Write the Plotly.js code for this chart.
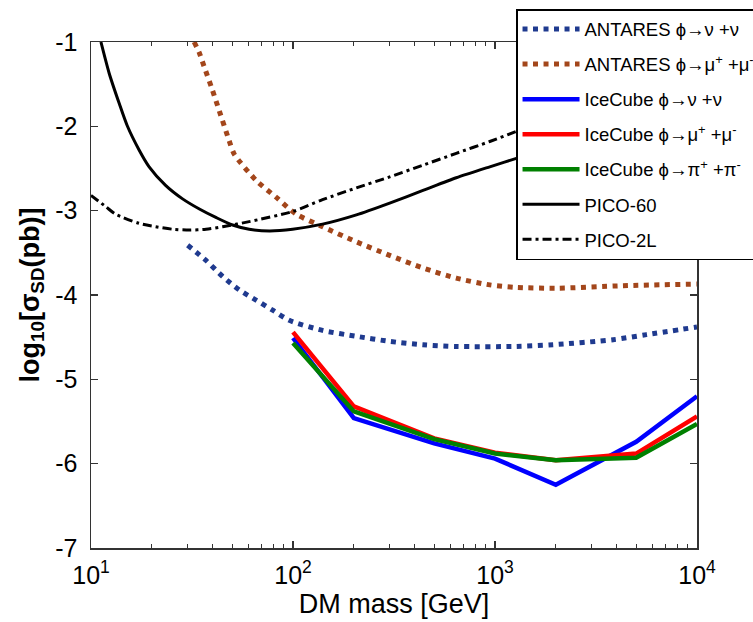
<!DOCTYPE html>
<html>
<head>
<meta charset="utf-8">
<script src="https://cdn.plot.ly/plotly-3.0.1.min.js"></script>
<style>html,body{margin:0;padding:0;background:#fff;}#chart{width:753px;height:622px;}</style>
</head>
<body>
<div id="chart"></div>
<script>
// ---- data (DM mass in GeV, log10 sigma_SD in pb) ----
const antaresNuMass = [30.1, 37.1, 44.8, 54.2, 65.6, 79.3, 95.9, 140, 206, 301, 440, 643, 1276, 1936, 3846, 5623, 10000];
const antaresNuVal  = [-3.41, -3.59, -3.78, -3.94, -4.06, -4.18, -4.30, -4.42, -4.49, -4.55, -4.59, -4.61, -4.61, -4.59, -4.53, -4.47, -4.38];

const antaresMuMass = [32.4, 34.4, 36.3, 39.9, 43.2, 48.3, 51.2, 65.6, 82.4, 103.5, 140, 206, 301, 440, 643, 942, 1276, 2014, 4305, 10000];
const antaresMuVal  = [-1.00, -1.13, -1.29, -1.57, -1.82, -2.17, -2.33, -2.64, -2.84, -3.04, -3.19, -3.37, -3.53, -3.68, -3.80, -3.88, -3.91, -3.92, -3.89, -3.87];

const icecubeMass  = [100, 200, 500, 1000, 2000, 5000, 10000];
const icecubeNu    = [-4.51, -5.46, -5.76, -5.94, -6.25, -5.74, -5.20];
const icecubeMu    = [-4.44, -5.32, -5.70, -5.87, -5.96, -5.88, -5.44];
const icecubePi    = [-4.57, -5.38, -5.71, -5.88, -5.96, -5.93, -5.53];

const pico60Mass = [11.2, 12.3, 13.8, 15.1, 17.3, 19.4, 23.4, 28.4, 34.4, 41.5, 50.2, 60.7, 76.4, 99.5, 140, 206, 301, 440, 643, 942, 1276, 3162, 10000];
const pico60Val  = [-1.00, -1.37, -1.73, -1.99, -2.28, -2.48, -2.70, -2.86, -2.98, -3.08, -3.17, -3.22, -3.24, -3.22, -3.16, -3.05, -2.91, -2.76, -2.61, -2.48, -2.38, -2.10, -1.75];

const pico2LMass = [10, 11.8, 13.2, 17.3, 20.9, 25.3, 30.6, 37.1, 44.8, 60.7, 99.5, 140, 206, 301, 440, 643, 942, 1276, 3162, 10000];
const pico2LVal  = [-2.82, -2.95, -3.04, -3.15, -3.19, -3.22, -3.23, -3.22, -3.19, -3.13, -3.01, -2.87, -2.73, -2.60, -2.46, -2.32, -2.18, -2.06, -1.70, -1.25];

const seriesNames = [
  'ANTARES ϕ→ν +ν',
  'ANTARES ϕ→μ<sup>+</sup> +μ<sup>-</sup>',
  'IceCube ϕ→ν +ν',
  'IceCube ϕ→μ<sup>+</sup> +μ<sup>-</sup>',
  'IceCube ϕ→π<sup>+</sup> +π<sup>-</sup>',
  'PICO-60',
  'PICO-2L'
];

const xTickVals = [10, 100, 1000, 10000];
const xTickText = ['10<sup>1</sup>', '10<sup>2</sup>', '10<sup>3</sup>', '10<sup>4</sup>'];
const xMinorVals = [20,30,40,50,60,70,80,90,200,300,400,500,600,700,800,900,2000,3000,4000,5000,6000,7000,8000,9000];
const yTickVals = [-7, -6, -5, -4, -3, -2, -1];
const yTickText = ['-7', '-6', '-5', '-4', '-3', '-2', '-1'];

// ---- traces ----
const mk = (x, y, name, color, width, dash, order, shape) => ({
  x: x, y: y, name: name, type: 'scatter', mode: 'lines',
  line: {color: color, width: width, dash: dash, shape: shape || 'linear', smoothing: 0.7},
  legendgroup: 'g' + order, legendrank: order
});

const traces = [
  mk(antaresNuMass, antaresNuVal, seriesNames[0], '#1f3a8f', 5, '5px,5.5px', 1, 'spline'),
  mk(antaresMuMass, antaresMuVal, seriesNames[1], '#a3461b', 5, '5px,5.5px', 2, 'spline'),
  mk(icecubeMass, icecubeNu, seriesNames[2], '#0000ff', 4.5, 'solid', 3),
  mk(icecubeMass, icecubeMu, seriesNames[3], '#ff0000', 4.5, 'solid', 4),
  mk(icecubeMass, icecubePi, seriesNames[4], '#008000', 4.5, 'solid', 5),
  mk(pico60Mass, pico60Val, seriesNames[5], '#000000', 3, 'solid', 6, 'spline'),
  mk(pico2LMass, pico2LVal, seriesNames[6], '#000000', 3, '9px,4px,3px,4px', 7, 'spline')
];

const font = 'Liberation Sans, Arial, Helvetica, sans-serif';

const layout = {
  width: 753, height: 622,
  margin: {l: 91, r: 56, t: 42, b: 74, autoexpand: false},
  paper_bgcolor: '#ffffff', plot_bgcolor: '#ffffff',
  font: {family: font, color: '#000000', size: 22},
  showlegend: true,
  legend: {
    xref: 'container', yref: 'container',
    x: 0.6853, y: 0.9855, xanchor: 'left', yanchor: 'top',
    bgcolor: '#ffffff', bordercolor: '#000000', borderwidth: 1.5,
    font: {family: font, size: 18.5, color: '#000000'},
    itemwidth: 57, tracegroupgap: 8, traceorder: 'grouped'
  },
  xaxis: {
    type: 'log', range: [1, 4],
    tickmode: 'array', tickvals: xTickVals, ticktext: xTickText,
    ticks: 'inside', ticklen: 7, tickwidth: 1.3, tickcolor: '#333',
    minor: {tickmode: 'array', tickvals: xMinorVals, ticks: 'inside', ticklen: 4, tickwidth: 1.1, tickcolor: '#333'},
    showline: true, linecolor: '#333', linewidth: 1.5, mirror: 'ticks',
    showgrid: false, zeroline: false,
    tickfont: {family: font, size: 25, color: '#000'},
    ticklabelstandoff: 4,
    title: {text: 'DM mass [GeV]', font: {family: font, size: 27, color: '#000'}, standoff: 6}
  },
  yaxis: {
    range: [-7, -1],
    tickmode: 'array', tickvals: yTickVals, ticktext: yTickText,
    ticks: 'inside', ticklen: 7, tickwidth: 1.3, tickcolor: '#333',
    showline: true, linecolor: '#333', linewidth: 1.5, mirror: 'ticks',
    showgrid: false, zeroline: false,
    tickfont: {family: font, size: 25, color: '#000'},
    ticklabelstandoff: 7,
    title: {text: '<b>log<sub>10</sub>[σ<sub>SD</sub>(pb)]</b>', font: {family: font, size: 27, color: '#000'}, standoff: 8}
  }
};

Plotly.newPlot('chart', traces, layout, {displayModeBar: false, staticPlot: true});
</script>
</body>
</html>
